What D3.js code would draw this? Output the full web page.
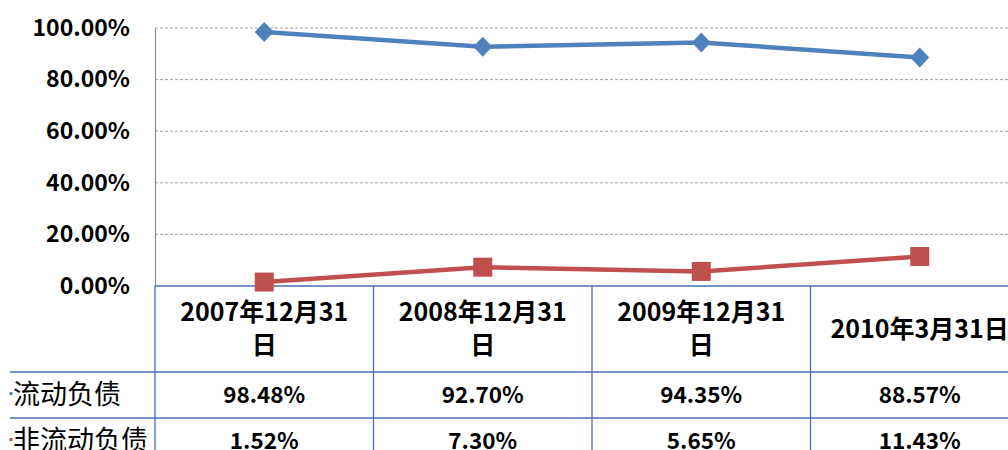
<!DOCTYPE html>
<html><head><meta charset="utf-8">
<script src="https://cdn.jsdelivr.net/npm/d3@7"></script>
<style>
html,body{margin:0;padding:0;background:#fff;}
svg{display:block;}
</style></head>
<body>
<svg id="chart" width="1008" height="450"></svg>
<script>
const categories = ["2007年12月31日", "2008年12月31日", "2009年12月31日", "2010年3月31日"];
const headerLines = [["2007年12月31", "日"], ["2008年12月31", "日"], ["2009年12月31", "日"], ["2010年3月31日"]];
const seriesNames = ["流动负债", "非流动负债"];
const currentLiab = [0.9848, 0.9270, 0.9435, 0.8857];
const nonCurrentLiab = [0.0152, 0.0730, 0.0565, 0.1143];
const yTicks = [0, 0.2, 0.4, 0.6, 0.8, 1.0];
const colors = ["#4f81bd", "#c0504d"];

(function () {
const svg = d3.select("#chart");
const plotLeft = 155, colW = 218.5, plotTop = 28, base = 286;
const x = d3.scaleBand().domain(categories).range([plotLeft, plotLeft + colW * categories.length]);
const y = d3.scaleLinear().domain([0, 1]).range([base, plotTop]);
const font = "'Noto Sans CJK SC', 'Open Sans', sans-serif";
const tableColor = "#4a6ea8";

// gridlines
svg.append("g").selectAll("line").data(yTicks.filter(d => d > 0)).join("line")
  .attr("x1", plotLeft).attr("x2", 1008).attr("y1", d => y(d)).attr("y2", d => y(d))
  .attr("stroke", "#a0a0a0").attr("stroke-width", 1).attr("stroke-dasharray", "3,2");

// y axis
const yAxis = d3.axisLeft(y).tickValues(yTicks).tickFormat(d3.format(".2%")).tickSize(0).tickPadding(25);
const ga = svg.append("g").attr("transform", `translate(${plotLeft},0)`).call(yAxis);
ga.select(".domain").attr("stroke", "#8c8c8c").attr("stroke-width", 1.2);
ga.selectAll("text").attr("font-family", font).attr("font-weight", "bold").attr("font-size", 23).attr("fill", "#000");

// table lines
const tg = svg.append("g").attr("stroke", tableColor).attr("stroke-width", 1.3);
tg.append("line").attr("x1", plotLeft).attr("x2", 1008).attr("y1", base).attr("y2", base);
[372, 418].forEach(yy => tg.append("line").attr("x1", 10).attr("x2", 1008).attr("y1", yy).attr("y2", yy));
categories.forEach(c => tg.append("line").attr("x1", x(c)).attr("x2", x(c)).attr("y1", base).attr("y2", 450));

// header
const hg = svg.append("g").attr("font-family", font).attr("font-weight", "bold").attr("font-size", 25).attr("text-anchor", "middle");
categories.forEach((c, i) => {
  const lines = headerLines[i];
  const cx = x(c) + x.bandwidth() / 2;
  const t = hg.append("text").attr("x", cx).attr("y", lines.length === 2 ? 321 : 338);
  lines.forEach((l, j) => t.append("tspan").attr("x", cx).attr("dy", j === 0 ? 0 : 33).text(l));
});

// rows
const rows = [currentLiab, nonCurrentLiab];
const rowY = [403, 449];
rows.forEach((vals, r) => {
  svg.append("rect").attr("x", 9.5).attr("width", 3).attr("y", rowY[r] - 11).attr("height", 3)
    .attr("fill", colors[r]);
  svg.append("text").attr("x", 13).attr("y", rowY[r] + 1).attr("font-family", font).attr("font-size", 27)
    .attr("fill", "#000").text(seriesNames[r]);
  vals.forEach((v, i) => {
    svg.append("text").attr("x", x(categories[i]) + x.bandwidth() / 2).attr("y", rowY[r])
      .attr("text-anchor", "middle").attr("font-family", font).attr("font-weight", "bold").attr("font-size", 22.5)
      .text(d3.format(".2%")(v));
  });
});

// lines
const line = d3.line().x((d, i) => x(categories[i]) + x.bandwidth() / 2).y(d => y(d));
rows.forEach((vals, r) => {
  svg.append("path").datum(vals).attr("d", line).attr("fill", "none")
    .attr("stroke", colors[r]).attr("stroke-width", 4.5);
});
// markers
svg.append("g").selectAll("path").data(currentLiab).join("path")
  .attr("transform", (d, i) => `translate(${x(categories[i]) + x.bandwidth() / 2},${y(d)})`)
  .attr("d", "M0,-10L9.5,0L0,10L-9.5,0Z").attr("fill", colors[0]);
svg.append("g").selectAll("rect").data(nonCurrentLiab).join("rect")
  .attr("x", (d, i) => x(categories[i]) + x.bandwidth() / 2 - 9.5).attr("y", d => y(d) - 9.5)
  .attr("width", 19).attr("height", 19).attr("fill", colors[1]);
})();
</script>
</body></html>
